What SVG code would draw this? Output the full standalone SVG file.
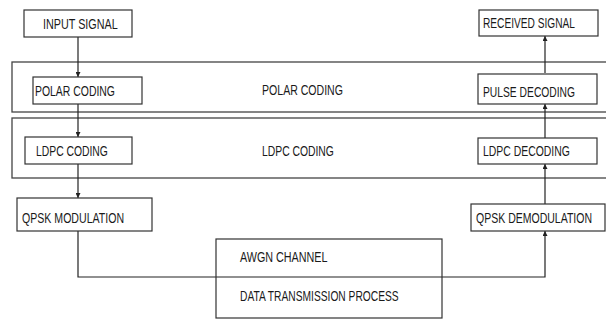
<svg xmlns="http://www.w3.org/2000/svg" width="606" height="320" viewBox="0 0 606 320">
<style>
.box{fill:#fff;stroke:#333;stroke-width:1.2}
.band{fill:none;stroke:#444;stroke-width:1.3}
.t{font-family:"Liberation Sans",Arial,sans-serif;font-size:15px;fill:#1a1a1a}
.c{fill:none;stroke:#222;stroke-width:1.2}
</style>
<defs>
<marker id="ah" viewBox="0 0 8 8" refX="8" refY="4" markerWidth="5" markerHeight="5" orient="auto" markerUnits="userSpaceOnUse">
<path d="M0,0 L8,4 L0,8 z" fill="#222"/>
</marker>
</defs>
<rect width="606" height="320" fill="#fff"/>
<g id="band-polar">
<rect class="band" x="12" y="62" width="600" height="50"/>
<text class="t" transform="translate(262,95) scale(0.704,1)">POLAR CODING</text>
</g>
<g id="band-ldpc">
<rect class="band" x="12" y="118" width="600" height="60"/>
<text class="t" transform="translate(262,156) scale(0.691,1)">LDPC CODING</text>
</g>
<g id="connectors">
<line class="c" x1="78" y1="37" x2="78" y2="77" marker-end="url(#ah)"/>
<line class="c" x1="78" y1="104" x2="78" y2="137" marker-end="url(#ah)"/>
<line class="c" x1="78" y1="164" x2="78" y2="198" marker-end="url(#ah)"/>
<polyline class="c" points="78,231 78,277 545,277 545,231" marker-end="url(#ah)"/>
<line class="c" x1="545" y1="204" x2="545" y2="164" marker-end="url(#ah)"/>
<line class="c" x1="545" y1="138" x2="545" y2="104" marker-end="url(#ah)"/>
<line class="c" x1="545" y1="73" x2="545" y2="36" marker-end="url(#ah)"/>
</g>
<g id="input-signal">
<rect class="box" x="24" y="10" width="108" height="27"/>
<text class="t" transform="translate(43,29) scale(0.72,1)">INPUT SIGNAL</text>
</g>
<g id="polar-coding">
<rect class="box" x="33" y="77" width="109" height="27"/>
<text class="t" transform="translate(35,96) scale(0.696,1)">POLAR CODING</text>
</g>
<g id="ldpc-coding">
<rect class="box" x="25" y="137" width="107" height="27"/>
<text class="t" transform="translate(36,156) scale(0.691,1)">LDPC CODING</text>
</g>
<g id="qpsk-modulation">
<rect class="box" x="17" y="198" width="135" height="33"/>
<text class="t" transform="translate(22,223) scale(0.706,1)">QPSK MODULATION</text>
</g>
<g id="awgn-channel">
<rect x="216" y="239" width="226" height="79" fill="none" stroke="#333" stroke-width="1.2"/>
<text class="t" transform="translate(240,262) scale(0.718,1)">AWGN CHANNEL</text>
<text class="t" transform="translate(240,301) scale(0.683,1)">DATA TRANSMISSION PROCESS</text>
</g>
<g id="received-signal">
<rect class="box" x="479" y="10" width="119" height="26"/>
<text class="t" transform="translate(483,28) scale(0.677,1)">RECEIVED SIGNAL</text>
</g>
<g id="pulse-decoding">
<rect class="box" x="478" y="74" width="119" height="30"/>
<text class="t" transform="translate(483,97) scale(0.686,1)">PULSE DECODING</text>
</g>
<g id="ldpc-decoding">
<rect class="box" x="478" y="138" width="119" height="26"/>
<text class="t" transform="translate(483,156) scale(0.696,1)">LDPC DECODING</text>
</g>
<g id="qpsk-demodulation">
<rect class="box" x="471" y="204" width="134" height="27"/>
<text class="t" transform="translate(476,223) scale(0.702,1)">QPSK DEMODULATION</text>
</g>
</svg>
